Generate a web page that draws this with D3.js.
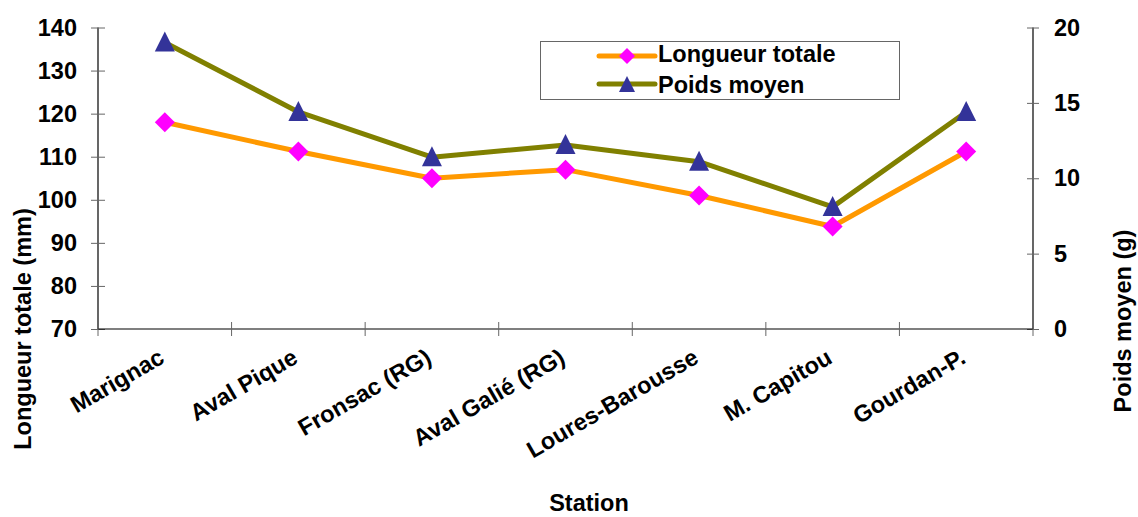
<!DOCTYPE html>
<html>
<head>
<meta charset="utf-8">
<script src="https://cdn.jsdelivr.net/npm/d3@7"></script>
<style>
  html, body { margin: 0; padding: 0; background: #fff; }
  svg { display: block; }
  text { font-family: "Liberation Sans", Arial, sans-serif; font-weight: bold; fill: #000; }
</style>
</head>
<body>
<svg id="chart" width="1138" height="517"></svg>
<script>
// Stations along the river
const stations = ["Marignac", "Aval Pique", "Fronsac (RG)", "Aval Galié (RG)", "Loures-Barousse", "M. Capitou", "Gourdan-P."];
// Mean total length (mm), left axis
const longueurTotale = [118, 111.2, 105, 107, 101, 93.8, 111.2];
// Mean weight (g), right axis
const poidsMoyen = [19.0, 14.4, 11.4, 12.2, 11.1, 8.1, 14.4];
// Axis ticks
const leftTicks = [70, 80, 90, 100, 110, 120, 130, 140];
const rightTicks = [0, 5, 10, 15, 20];
const seriesNames = ["Longueur totale", "Poids moyen"];

const W = 1138, H = 517;
const plot = { left: 98, right: 1033, top: 27.5, bottom: 329 };
const FS = 23.5;

const svg = d3.select("#chart");

const x = d3.scaleBand().domain(stations).range([plot.left, plot.right]);
const yL = d3.scaleLinear().domain([70, 140]).range([plot.bottom, plot.top]);
const yR = d3.scaleLinear().domain([0, 20]).range([plot.bottom, plot.top]);
const cx = d => x(d) + x.bandwidth() / 2;

// Left axis
const gL = svg.append("g").attr("transform", `translate(${plot.left},0)`)
  .call(d3.axisLeft(yL).tickValues(leftTicks).tickSizeInner(7).tickSizeOuter(0).tickPadding(14));
gL.selectAll(".tick line").attr("x2", 7).attr("x1", -7).attr("stroke", "#666");
// Right axis
const gR = svg.append("g").attr("transform", `translate(${plot.right},0)`)
  .call(d3.axisRight(yR).tickValues(rightTicks).tickSizeInner(6).tickSizeOuter(0).tickPadding(15));
gR.selectAll(".tick line").attr("x1", -6).attr("x2", 6).attr("stroke", "#666");
// Bottom axis: ticks on category boundaries
const gX = svg.append("g").attr("transform", `translate(0,${plot.bottom})`)
  .call(d3.axisBottom(x).tickSize(0).tickFormat(""));
const boundaries = stations.map(s => x(s)).concat([plot.right]);
gX.selectAll(".bound").data(boundaries).join("line")
  .attr("x1", d => d).attr("x2", d => d).attr("y1", -7).attr("y2", 7).attr("stroke", "#666");

[gL, gR, gX].forEach(g => {
  g.select(".domain").attr("stroke", "#000").attr("stroke-width", 1.2);
  g.selectAll("text").style("font-size", FS + "px").style("font-family", "'Liberation Sans', Arial, sans-serif").style("font-weight", "bold").attr("fill", "#000");
});
gR.select(".domain").attr("d", `M0,${plot.top}V${plot.bottom}`);
gL.select(".domain").attr("d", `M0,${plot.top}V${plot.bottom}`);
gX.select(".domain").attr("d", `M${plot.left},0H${plot.right}`);

// Category labels, rotated
svg.append("g").selectAll("text").data(stations).join("text")
  .attr("text-anchor", "end")
  .attr("transform", d => `translate(${cx(d) + 1},${362}) rotate(-30)`)
  .style("font-size", FS + "px")
  .text(d => d);

// Axis titles
svg.append("text").attr("text-anchor", "middle")
  .attr("transform", `translate(31,329) rotate(-90)`)
  .style("font-size", FS + "px").text("Longueur totale (mm)");
svg.append("text").attr("text-anchor", "middle")
  .attr("transform", `translate(1131,321) rotate(-90)`)
  .style("font-size", FS + "px").text("Poids moyen (g)");
svg.append("text").attr("text-anchor", "middle")
  .attr("x", 589).attr("y", 511)
  .style("font-size", FS + "px").text("Station");

// Series lines
const lineL = d3.line().x((d, i) => cx(stations[i])).y(d => yL(d));
const lineR = d3.line().x((d, i) => cx(stations[i])).y(d => yR(d));

svg.append("path").datum(longueurTotale).attr("d", lineL)
  .attr("fill", "none").attr("stroke", "#FF9900").attr("stroke-width", 5).attr("stroke-linejoin", "round");
svg.append("path").datum(poidsMoyen).attr("d", lineR)
  .attr("fill", "none").attr("stroke", "#808000").attr("stroke-width", 5).attr("stroke-linejoin", "round");

const diamond = "M0,-10L10,0L0,10L-10,0Z";
const triangle = "M0,-10L10,10L-10,10Z";

svg.append("g").selectAll("path").data(longueurTotale).join("path")
  .attr("d", diamond).attr("fill", "#FF00FF")
  .attr("transform", (d, i) => `translate(${cx(stations[i])},${yL(d)})`);
svg.append("g").selectAll("path").data(poidsMoyen).join("path")
  .attr("d", triangle).attr("fill", "#333399")
  .attr("transform", (d, i) => `translate(${cx(stations[i])},${yR(d) - 1})`);

// Legend
const lg = svg.append("g");
lg.append("rect").attr("x", 540.5).attr("y", 41.5).attr("width", 359).attr("height", 58)
  .attr("fill", "#fff").attr("stroke", "#666").attr("stroke-width", 1);
const legendRows = [
  { name: seriesNames[0], color: "#FF9900", marker: diamond, mcolor: "#FF00FF", y: 56 },
  { name: seriesNames[1], color: "#808000", marker: triangle, mcolor: "#333399", y: 84 }
];
legendRows.forEach(r => {
  lg.append("line").attr("x1", 599).attr("x2", 655).attr("y1", r.y).attr("y2", r.y)
    .attr("stroke", r.color).attr("stroke-width", 5).attr("stroke-linecap", "round");
  lg.append("path").attr("d", r.marker).attr("fill", r.mcolor)
    .attr("transform", `translate(627,${r.y}) scale(0.8)`);
  lg.append("text").attr("x", 658).attr("y", r.y + 6 + (r === legendRows[1] ? 3 : 0))
    .style("font-size", FS + "px").text(r.name);
});
</script>
</body>
</html>
